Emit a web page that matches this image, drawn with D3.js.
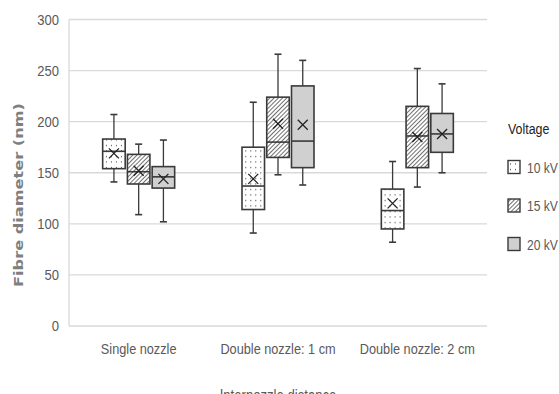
<!DOCTYPE html>
<html>
<head>
<meta charset="utf-8">
<script src="https://cdn.jsdelivr.net/npm/d3@7"></script>
<style>
  body { margin: 0; background: #fff; }
  svg { display: block; }
</style>
</head>
<body>
<svg width="559" height="394"></svg>
<script>
// data
var categories = ["Single nozzle", "Double nozzle: 1 cm", "Double nozzle: 2 cm"];
var series = ["10 kV", "15 kV", "20 kV"];
var yTicks = [0, 50, 100, 150, 200, 250, 300];

// per series: [single, double 1 cm, double 2 cm]
var low10 = [141, 91, 82],    q1_10 = [154, 114, 95],  med10 = [171, 137, 113], q3_10 = [183, 175, 134], high10 = [207, 219, 161], mean10 = [169, 144, 120];
var low15 = [109, 148, 136],  q1_15 = [139, 165, 155], med15 = [151, 180, 186], q3_15 = [168, 224, 215], high15 = [178, 266, 252], mean15 = [152, 198, 185];
var low20 = [102, 138, 150],  q1_20 = [135, 155, 170], med20 = [146, 181, 188], q3_20 = [156, 235, 208], high20 = [182, 260, 237], mean20 = [144, 197, 188];

var boxData = [];
var cols = [
  [low10, q1_10, med10, q3_10, high10, mean10],
  [low15, q1_15, med15, q3_15, high15, mean15],
  [low20, q1_20, med20, q3_20, high20, mean20]
];
series.forEach(function(s, si){
  categories.forEach(function(c, ci){
    var a = cols[si];
    boxData.push({cat: c, ser: s, lo: a[0][ci], q1: a[1][ci], med: a[2][ci], q3: a[3][ci], hi: a[4][ci], mean: a[5][ci]});
  });
});

var margin = {top: 19.5, right: 72, bottom: 68, left: 69};
var width = 559, height = 394;
var ink = "#3a3a3a";
var textGray = "#595959";
var font = "'Liberation Sans', Arial, sans-serif";
var fills = {"10 kV": "url(#dots)", "15 kV": "url(#hatch)", "20 kV": "#d0d0d0"};

// squeeze text horizontally so it looks like the condensed face of the original
function squeeze(sel, k) {
  sel.each(function(){
    var len = this.getComputedTextLength();
    d3.select(this).attr("textLength", len * k).attr("lengthAdjust", "spacingAndGlyphs");
  });
}

var svg = d3.select("svg");

// patterns
var defs = svg.append("defs");
var dots = defs.append("pattern").attr("id", "dots")
  .attr("patternUnits", "userSpaceOnUse").attr("width", 5).attr("height", 5.5);
dots.append("rect").attr("width", 5).attr("height", 5.5).attr("fill", "#fff");
dots.append("rect").attr("x", 2).attr("y", 2).attr("width", 1).attr("height", 1).attr("fill", "#222");

var hatch = defs.append("pattern").attr("id", "hatch")
  .attr("patternUnits", "userSpaceOnUse").attr("width", 3).attr("height", 3)
  .attr("patternTransform", "rotate(45)");
hatch.append("rect").attr("width", 3).attr("height", 3).attr("fill", "#fff");
hatch.append("line").attr("x1", 0).attr("y1", 0).attr("x2", 0).attr("y2", 3)
  .attr("stroke", "#222").attr("stroke-width", 1.3);

// scales
var x = d3.scaleBand().domain(categories).range([margin.left, width - margin.right]);
var xs = d3.scaleBand().domain(series).range([-36, 36]).paddingInner(0.09);
var y = d3.scaleLinear().domain([0, 300]).range([height - margin.bottom, margin.top]);

// grid
svg.append("g").selectAll("line").data(yTicks).enter().append("line")
  .attr("x1", margin.left).attr("x2", width - margin.right)
  .attr("y1", function(d){ return y(d); }).attr("y2", function(d){ return y(d); })
  .attr("stroke", "#d9d9d9").attr("stroke-width", 1.3);
svg.append("line")
  .attr("x1", margin.left).attr("x2", margin.left)
  .attr("y1", y(300)).attr("y2", y(0))
  .attr("stroke", "#d9d9d9").attr("stroke-width", 1.3);

// axes (labels only)
var yAxis = d3.axisLeft(y).tickValues(yTicks).tickSize(0).tickPadding(10);
var gy = svg.append("g").attr("transform", "translate(" + margin.left + ",0)").call(yAxis);
gy.select(".domain").remove();
gy.selectAll("text").attr("fill", textGray)
  .style("font-family", font).style("font-size", "15.5px")
  .call(squeeze, 0.84);

var xAxis = d3.axisBottom(x).tickSize(0).tickPadding(17);
var gx = svg.append("g").attr("transform", "translate(0," + y(0) + ")").call(xAxis);
gx.select(".domain").remove();
gx.selectAll("text").attr("fill", textGray)
  .style("font-family", font).style("font-size", "15.5px")
  .call(squeeze, 0.82);

// boxes
var bw = xs.bandwidth();
var g = svg.append("g").selectAll("g").data(boxData).enter().append("g")
  .attr("transform", function(d){ return "translate(" + (x(d.cat) + x.bandwidth() / 2 + xs(d.ser) + bw / 2) + ",0)"; });

// whiskers
g.append("line").attr("x1", 0).attr("x2", 0)
  .attr("y1", function(d){ return y(d.hi); }).attr("y2", function(d){ return y(d.q3); })
  .attr("stroke", ink).attr("stroke-width", 1.3);
g.append("line").attr("x1", 0).attr("x2", 0)
  .attr("y1", function(d){ return y(d.q1); }).attr("y2", function(d){ return y(d.lo); })
  .attr("stroke", ink).attr("stroke-width", 1.3);
g.append("line").attr("x1", -3.5).attr("x2", 3.5)
  .attr("y1", function(d){ return y(d.hi); }).attr("y2", function(d){ return y(d.hi); })
  .attr("stroke", ink).attr("stroke-width", 1.6);
g.append("line").attr("x1", -3.5).attr("x2", 3.5)
  .attr("y1", function(d){ return y(d.lo); }).attr("y2", function(d){ return y(d.lo); })
  .attr("stroke", ink).attr("stroke-width", 1.6);

// box
g.append("rect").attr("x", -bw / 2).attr("width", bw)
  .attr("y", function(d){ return y(d.q3); })
  .attr("height", function(d){ return y(d.q1) - y(d.q3); })
  .attr("fill", function(d){ return fills[d.ser]; })
  .attr("stroke", ink).attr("stroke-width", 1.6);

// median
g.append("line").attr("x1", -bw / 2).attr("x2", bw / 2)
  .attr("y1", function(d){ return y(d.med); }).attr("y2", function(d){ return y(d.med); })
  .attr("stroke", ink).attr("stroke-width", 1.6);

// mean cross
var m = 5;
g.append("path")
  .attr("d", function(d){
    var cy = y(d.mean);
    return "M" + (-m) + "," + (cy - m) + "L" + m + "," + (cy + m) + "M" + (-m) + "," + (cy + m) + "L" + m + "," + (cy - m);
  })
  .attr("stroke", "#222").attr("stroke-width", 1.3).attr("fill", "none");

// axis titles
svg.append("text")
  .attr("transform", "translate(19,195) rotate(-90)")
  .attr("text-anchor", "middle")
  .attr("textLength", 184).attr("lengthAdjust", "spacingAndGlyphs")
  .attr("dy", "0.35em")
  .attr("fill", "#7f7f7f")
  .style("font-family", "'DejaVu Sans', sans-serif").style("font-weight", "bold").style("font-size", "12.5px")
  .text("Fibre diameter (nm)");

svg.append("text")
  .attr("x", (margin.left + width - margin.right) / 2).attr("y", 401)
  .attr("text-anchor", "middle").attr("fill", textGray)
  .style("font-family", font).style("font-size", "16px")
  .text("Internozzle distance")
  .call(squeeze, 0.82);

// legend
var lg = svg.append("g").attr("transform", "translate(508,0)");
lg.append("text").attr("x", 0).attr("y", 134).attr("fill", "#222")
  .style("font-family", font).style("font-size", "15.5px")
  .text("Voltage")
  .call(squeeze, 0.8);
var li = lg.selectAll("g.item").data(series).enter().append("g").attr("class", "item")
  .attr("transform", function(d, i){ return "translate(0," + (167 + i * 38.5) + ")"; });
li.append("rect").attr("x", 0).attr("y", -6.5).attr("width", 12).attr("height", 13)
  .attr("fill", function(d){ return fills[d]; }).attr("stroke", ink).attr("stroke-width", 1.4);
li.append("text").attr("x", 19).attr("y", 5.5).attr("fill", textGray)
  .style("font-family", font).style("font-size", "15.5px")
  .text(function(d){ return d; })
  .call(squeeze, 0.78);
</script>
</body>
</html>
